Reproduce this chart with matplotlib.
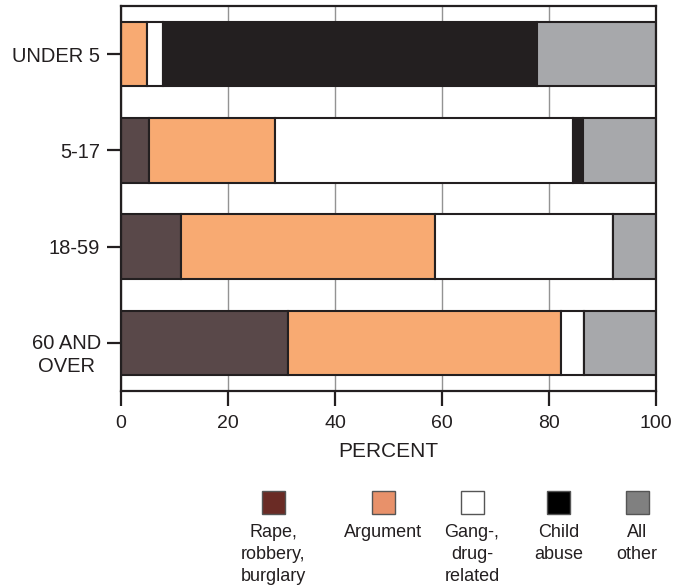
import numpy as np
import matplotlib.pyplot as plt
from matplotlib.patches import Rectangle

plt.rcParams['font.family'] = ['Liberation Sans', 'DejaVu Sans']

#---------------------------data---------------------------------------
age_groups = ["UNDER 5", "5-17", "18-59", "60 AND\nOVER"]
categories = ["Rape,\nrobbery,\nburglary", "Argument", "Gang-,\ndrug-\nrelated", "Child\nabuse", "All\nother"]

rape = [0.0, 5.3, 11.2, 31.3]
argument = [4.8, 23.4, 47.5, 51.0]
gang = [3.1, 55.7, 33.3, 4.2]
child_abuse = [69.9, 2.0, 0.0, 0.0]
all_other = [22.2, 13.6, 8.0, 13.5]

bar_colors = ["#594849", "#f8aa72", "#ffffff", "#231f20", "#a7a8ab"]
legend_colors = ["#6a2b25", "#e8916a", "#ffffff", "#000000", "#808080"]
dark = "#231f20"

#--------------------------plot------------------------------
fig = plt.figure(figsize=(6.73, 5.85), dpi=100)
ax = fig.add_axes([121/673, 1-391/585, 535/673, 385/585])

series = [rape, argument, gang, child_abuse, all_other]
y = np.arange(len(age_groups))
left = np.zeros(len(age_groups))
for vals, col in zip(series, bar_colors):
    vals = np.array(vals)
    ax.barh(y, vals, left=left, height=0.67, color=col, edgecolor=dark,
            linewidth=1.5, zorder=3)
    left += vals

ax.set_xlim(0, 100)
ax.set_ylim(3.5, -0.5)
ax.set_xticks([0, 20, 40, 60, 80, 100])
ax.set_yticks(y)
# multi-line label: first line sits on the tick, drawn separately below
ax.set_yticklabels(age_groups[:-1] + [""])
ax.annotate(age_groups[-1], xy=(0, y[-1]), xycoords=('axes fraction', 'data'),
            xytext=(-20, -29), textcoords='offset pixels', ha='right',
            va='baseline', multialignment='center', fontsize=14.5,
            color=dark, linespacing=1.25)
ax.xaxis.grid(True, color="#939393", linewidth=1.0, zorder=0)
ax.set_axisbelow(True)

for s in ax.spines.values():
    s.set_linewidth(1.6)
    s.set_color(dark)
    s.set_zorder(4)

ax.tick_params(axis='y', length=10, width=1.6, color=dark, pad=5,
               labelsize=14.5, labelcolor=dark)
ax.tick_params(axis='x', length=11, width=1.6, color=dark, pad=6.5,
               labelsize=14, labelcolor=dark)
ax.set_xlabel("PERCENT", fontsize=15, color=dark, labelpad=7)

# legend drawn in pixel coordinates
lg = fig.add_axes([0, 0, 1, 1], facecolor='none')
lg.set_xlim(0, 673)
lg.set_ylim(585, 0)
lg.axis('off')
centers = [273, 383, 472, 558.5, 637]
for cx, col, lab in zip(centers, legend_colors, categories):
    lg.add_patch(Rectangle((cx-11.5, 491), 23, 23, facecolor=col,
                           edgecolor="#555555", linewidth=1.0))
    lg.text(cx, 524, lab, ha='center', va='top', fontsize=13,
            color=dark, linespacing=1.4)

plt.savefig("out.png", dpi=100)
